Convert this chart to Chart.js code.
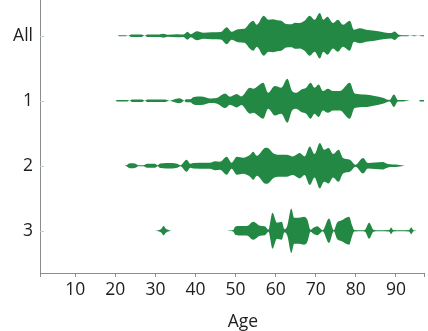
<!DOCTYPE html>
<html>
<head>
<meta charset="utf-8">
<script src="https://cdn.jsdelivr.net/npm/chart.js@4/dist/chart.umd.min.js"></script>
<style>
  html, body { margin: 0; padding: 0; background: #fff; overflow: hidden; }
  canvas { display: block; }
</style>
</head>
<body>
<canvas id="chart" width="428" height="331"></canvas>
<script>
// Groups shown on the vertical axis, top to bottom
const categories = ['All', '1', '2', '3'];
// Labelled ages on the horizontal axis
const ageTicks = [10, 20, 30, 40, 50, 60, 70, 80, 90];

// Age distribution of each group: [age, density] pairs
const violinAll = [
  [20.5, 0], [21, 0.5], [22.5, 0.6], [23.2, 0.1], [24, 1.3], [26.5, 1.3], [27.3, 0.1], [28, 1.2],
  [31, 1.3], [32, 2], [33, 1], [35.5, 1.5], [37, 1.2], [38, 4], [38.8, 1.5], [40.3, 4.5],
  [42, 3], [44, 3.5], [46.3, 3.8], [47.8, 8.5], [49, 4], [50.6, 6.5], [52.2, 7], [53.6, 13],
  [54.4, 15], [55.3, 11], [57, 20], [58.2, 16], [59.4, 16.5], [60.4, 15.5], [61.4, 15], [62.6, 11.7],
  [64, 11.5], [64.8, 13], [66, 12.7], [67.2, 15], [68.5, 20], [69.7, 16], [71, 22.7], [71.9, 16],
  [72.9, 19], [74.3, 12.7], [75.5, 16], [76.8, 11], [78.5, 15], [79.5, 6], [81, 7.5], [82.5, 6],
  [84.7, 5], [87.2, 3.3], [88.8, 2.7], [89.7, 4.3], [90.7, 1], [91.5, 0.6], [93, 0.6], [93.5, 0.1],
  [94.5, 0.6], [95.5, 0.1], [96.5, 0.6], [97, 0.6]
];
const violin1 = [
  [20, 0], [20.5, 0.7], [23, 0.7], [23.5, 0.1], [24.2, 1.3], [26.7, 1.3], [27.3, 0.1], [28, 1.3],
  [32.4, 1.3], [33.5, 0.1], [35, 1.8], [36, 2.5], [36.8, 1], [37.2, 0.1], [37.6, 1.5], [38.7, 1.5],
  [39.4, 3.5], [40.5, 4.3], [42, 4], [43.6, 2.3], [45.4, 3], [47.4, 7.3], [48.6, 4], [50.3, 6.7],
  [51.4, 4.3], [53.6, 13], [54.4, 12], [56.9, 18], [58.1, 8], [59.8, 14.7], [61.4, 13], [62.9, 22],
  [64.1, 9.7], [65.1, 8], [66.4, 11.3], [67.6, 13], [68.7, 18], [69.7, 13], [70.7, 16.3], [71.8, 9.7],
  [73, 12], [74.3, 9.7], [76, 9.7], [78.5, 18], [79.7, 7.3], [82.2, 6.3], [84.7, 4.7], [86.7, 3],
  [88.4, 0.7], [89.5, 6.3], [90.5, 0.7], [91.8, 0.7], [93.5, 0.1], [95.8, 0.1], [96, 0.7], [97, 0.7]
];
const violin2 = [
  [22.3, 0], [22.8, 0.6], [23.3, 2], [24, 2.5], [25, 2], [25.7, 0.5], [27, 0.5], [27.9, 2],
  [29.9, 2], [30.5, 0.4], [31.2, 2.2], [34.1, 2.7], [35.4, 2], [36.2, 0.5], [37.8, 6], [38.7, 2],
  [39.4, 2.7], [42.9, 3], [43.6, 3], [44.9, 4.5], [46.1, 4], [47.8, 9], [49, 3], [50.3, 9],
  [51.9, 8], [53.6, 11], [54.4, 14], [55.3, 10], [57.5, 18], [58.1, 17.7], [59.3, 12.7], [61, 11],
  [62.7, 11], [64.3, 9.3], [66, 12.7], [67.2, 9.3], [68.5, 19.3], [69.7, 11.7], [71, 22.7], [72.1, 16],
  [73.2, 17.7], [74.3, 11.7], [75.7, 16], [76.8, 7.7], [78.5, 6], [79.9, 1], [81.8, 7.7], [83, 2.7],
  [86.7, 3.7], [88, 1.7], [90.5, 1], [92.2, 0]
];
const violin3 = [
  [30, 0], [30.4, 0.3], [31.5, 2], [32, 4.7], [32.6, 2], [33.7, 0.3], [34, 0],
  [48, 0], [48.3, 0.3], [49.4, 0.8], [49.9, 4], [51, 4.7], [52.8, 4.7], [54.4, 9], [56.1, 5],
  [57.3, 4.5], [58.2, 1], [59.2, 18], [60.3, 8], [61.5, 9], [62.2, 1.5], [62.9, 5], [63.9, 22.3],
  [64.6, 13], [65.8, 13], [67.1, 14], [67.9, 11], [68.7, 1], [69.4, 3], [70.4, 4.5], [71.2, 2],
  [71.7, 0.5], [73.3, 12.3], [74.5, 0.5], [75.3, 8], [76.5, 10.5], [78.3, 14], [79.1, 5], [79.6, 0.8],
  [81.5, 0.4], [82.3, 1], [83.3, 8], [84.4, 1], [85.5, 0.4], [88.3, 0.7], [88.8, 3.3], [89.3, 0.7],
  [91, 0.4], [93.3, 0.7], [93.8, 3.5], [94.3, 0.7], [95.3, 0]
];
const violins = [violinAll, violin1, violin2, violin3];

// Density -> half-width in category units
const widthScale = 1 / 65;
const violinColor = '#238843';
const axisColor = '#8c8c8c';
const labelColor = '#1e1e1e';
const labelFont = { family: '"Open Sans", sans-serif', size: 17.5 };

// Each violin = upper outline + lower outline filled against it
const datasets = [];
violins.forEach((profile, row) => {
  const base = { borderWidth: 0, pointRadius: 0, backgroundColor: violinColor,
                 borderColor: violinColor, cubicInterpolationMode: 'monotone' };
  datasets.push(Object.assign({}, base, {
    data: profile.map(([age, d]) => ({ x: age, y: row - d * widthScale })),
    fill: false
  }));
  datasets.push(Object.assign({}, base, {
    data: profile.map(([age, d]) => ({ x: age, y: row + d * widthScale })),
    fill: '-1'
  }));
});

// Short inward marks at each group on the vertical axis
const groupMarks = {
  id: 'groupMarks',
  afterDraw(chart) {
    const { ctx, chartArea, scales } = chart;
    ctx.save();
    ctx.strokeStyle = '#b5d6bf';
    ctx.lineWidth = 1;
    categories.forEach((_, i) => {
      const y = Math.round(scales.y.getPixelForValue(i)) + 0.5;
      ctx.beginPath();
      ctx.moveTo(chartArea.left, y);
      ctx.lineTo(chartArea.left + 4, y);
      ctx.stroke();
    });
    ctx.restore();
  }
};

// Horizontal axis title
const ageTitle = {
  id: 'ageTitle',
  afterDraw(chart) {
    const { ctx, chartArea } = chart;
    ctx.save();
    ctx.font = `${labelFont.size}px ${labelFont.family}`;
    ctx.fillStyle = labelColor;
    ctx.textAlign = 'center';
    ctx.textBaseline = 'alphabetic';
    ctx.fillText('Age', (chartArea.left + chartArea.right) / 2 + 11, chartArea.bottom + 54);
    ctx.restore();
  }
};

new Chart(document.getElementById('chart'), {
  type: 'line',
  data: { datasets },
  options: {
    responsive: false,
    animation: false,
    events: [],
    layout: { padding: { left: 0, right: 4, top: 0, bottom: 0 } },
    plugins: { legend: { display: false }, tooltip: { enabled: false } },
    scales: {
      x: {
        type: 'linear',
        min: 1.2,
        max: 97,
        afterBuildTicks: s => { s.ticks = [s.min, ...ageTicks, s.max].map(v => ({ value: v })); },
        afterFit: s => { s.height = 58; s.paddingLeft = 0; s.paddingRight = 0; },
        ticks: {
          autoSkip: false, maxRotation: 0, padding: 3,
          color: labelColor, font: labelFont,
          callback: v => ageTicks.includes(v) ? String(v) : ''
        },
        grid: { drawOnChartArea: false, drawTicks: true, tickLength: 4, color: axisColor },
        border: { display: true, color: axisColor, width: 1 }
      },
      y: {
        type: 'linear',
        reverse: true,
        min: -0.55,
        max: 3.65,
        afterBuildTicks: s => { s.ticks = categories.map((_, i) => ({ value: i })); },
        afterFit: s => { s.width = 40; s.paddingTop = 0; s.paddingBottom = 0; },
        ticks: {
          autoSkip: false, padding: 7,
          color: labelColor, font: labelFont,
          callback: v => categories[v] !== undefined ? categories[v] : ''
        },
        grid: { display: false, drawTicks: false },
        border: { display: true, color: axisColor, width: 1 }
      }
    }
  },
  plugins: [groupMarks, ageTitle]
});
</script>
</body>
</html>
